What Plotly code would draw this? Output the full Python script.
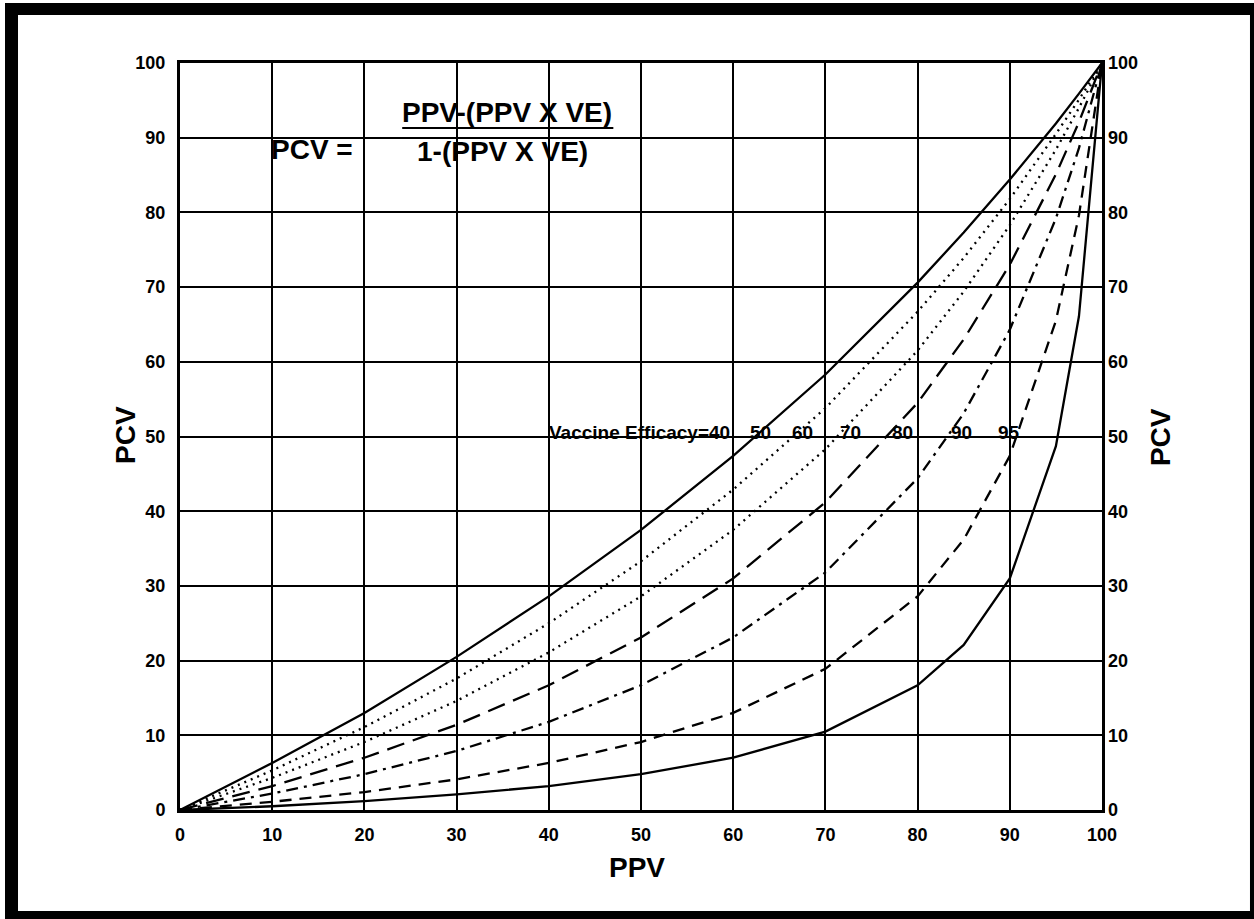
import plotly.graph_objects as go

# ---- data ----
ppv = [0, 10, 20, 30, 40, 50, 60, 70, 80, 85, 90, 95, 97.5, 100]

pcv_ve40 = [0, 6.3, 13.0, 20.5, 28.6, 37.5, 47.4, 58.3, 70.6, 77.3, 84.4, 91.9, 95.9, 100]
pcv_ve50 = [0, 5.3, 11.1, 17.6, 25.0, 33.3, 42.9, 53.8, 66.7, 73.9, 81.8, 90.5, 95.1, 100]
pcv_ve60 = [0, 4.3, 9.1, 14.6, 21.1, 28.6, 37.5, 48.3, 61.5, 69.4, 78.3, 88.4, 94.0, 100]
pcv_ve70 = [0, 3.2, 7.0, 11.4, 16.7, 23.1, 31.0, 41.2, 54.5, 63.0, 73.0, 85.1, 92.1, 100]
pcv_ve80 = [0, 2.2, 4.8, 7.9, 11.8, 16.7, 23.1, 31.8, 44.4, 53.1, 64.3, 79.2, 88.6, 100]
pcv_ve90 = [0, 1.1, 2.4, 4.1, 6.3, 9.1, 13.0, 18.9, 28.6, 36.2, 47.4, 65.5, 79.6, 100]
pcv_ve95 = [0, 0.5, 1.2, 2.1, 3.2, 4.8, 7.0, 10.5, 16.7, 22.1, 31.0, 48.7, 66.1, 100]

series_names = ["VE=40", "VE=50", "VE=60", "VE=70", "VE=80", "VE=90", "VE=95"]
series_values = [pcv_ve40, pcv_ve50, pcv_ve60, pcv_ve70, pcv_ve80, pcv_ve90, pcv_ve95]

ve_labels = ["Vaccine Efficacy=40", "50", "60", "70", "80", "90", "95"]
tick_vals = [0, 10, 20, 30, 40, 50, 60, 70, 80, 90, 100]
tick_text = ["0", "10", "20", "30", "40", "50", "60", "70", "80", "90", "100"]

# ---- styling ----
dashes = ["solid", "2px,5px", "2px,5px", "18px,9px", "12px,6px,3px,6px", "12px,8px", "solid"]
label_x = [59.9, 63.0, 67.5, 72.7, 78.4, 84.8, 89.9]
label_anchor = ["right", "center", "center", "center", "center", "center", "center"]

FONT = "Liberation Sans, Arial, Helvetica, sans-serif"

fig = go.Figure()
for name, vals, dash in zip(series_names, series_values, dashes):
    fig.add_trace(go.Scatter(x=ppv, y=vals, mode="lines", name=name,
                             line=dict(color="black", width=2.3, dash=dash)))

# invisible trace for right axis
fig.add_trace(go.Scatter(x=ppv, y=pcv_ve40, yaxis="y2", mode="lines",
                         line=dict(color="rgba(0,0,0,0)", width=0),
                         hoverinfo="skip", showlegend=False))

tickfont = dict(family=FONT, size=18, color="black", weight="bold")
axis_common = dict(range=[0, 100], tickvals=tick_vals, ticktext=tick_text,
                   showgrid=True, gridcolor="black", gridwidth=2,
                   showline=True, linecolor="black", linewidth=3,
                   zeroline=False, ticks="", tickfont=tickfont)

fig.update_layout(
    width=1254, height=919,
    margin=dict(l=180, r=152, t=63, b=109),
    paper_bgcolor="white", plot_bgcolor="white",
    showlegend=False,
    xaxis=dict(**axis_common, mirror=True, ticklabelstandoff=6),
    yaxis=dict(**axis_common, mirror=True, ticklabelstandoff=8),
    yaxis2=dict(range=[0, 100], tickvals=tick_vals, ticktext=tick_text,
                overlaying="y", side="right", showgrid=False, zeroline=False,
                showline=False, ticks="", tickfont=tickfont, ticklabelstandoff=5),
)

# efficacy labels
for txt, lx, anc in zip(ve_labels, label_x, label_anchor):
    fig.add_annotation(x=lx, y=50.6, xref="x", yref="y", text=txt, showarrow=False,
                       xanchor=anc, yanchor="middle",
                       font=dict(family=FONT, size=19, color="black", weight="bold"))

# formula
ffont = dict(family=FONT, size=28, color="black", weight="bold")
fig.add_annotation(x=35.5, y=93.4, xref="x", yref="y", text="PPV-(PPV X VE)", showarrow=False,
                   xanchor="center", yanchor="middle", font=ffont)
fig.add_annotation(x=35.0, y=88.2, xref="x", yref="y", text="1-(PPV X VE)", showarrow=False,
                   xanchor="center", yanchor="middle", font=ffont)
fig.add_annotation(x=14.3, y=88.4, xref="x", yref="y", text="PCV =", showarrow=False,
                   xanchor="center", yanchor="middle", font=ffont)
fig.add_shape(type="line", xref="x", yref="y", x0=24.1, x1=47.0, y0=91.3, y1=91.3,
              line=dict(color="black", width=2))

# axis titles
tfont = dict(family=FONT, size=28, color="black", weight="bold")
fig.add_annotation(x=0.4957, y=-0.0776, xref="paper", yref="paper", text="PPV", showarrow=False,
                   xanchor="center", yanchor="middle", font=tfont)
fig.add_annotation(x=-0.0597, y=0.502, xref="paper", yref="paper", text="PCV", showarrow=False,
                   xanchor="center", yanchor="middle", textangle=-90, font=tfont)
fig.add_annotation(x=1.063, y=0.4993, xref="paper", yref="paper", text="PCV", showarrow=False,
                   xanchor="center", yanchor="middle", textangle=-90, font=tfont)

# outer frame
frame = [(-0.1898, -0.1757, -0.1459, 1.0803),
         (-0.1898, 1.1649, 1.0643, 1.0803),
         (-0.1898, 1.1649, -0.1459, -0.1352),
         (1.1605, 1.1649, -0.1459, 1.0803)]
for x0, x1, y0, y1 in frame:
    fig.add_shape(type="rect", xref="paper", yref="paper", x0=x0, x1=x1, y0=y0, y1=y1,
                  fillcolor="black", line=dict(width=0), layer="above")

fig.write_html("out.html", config={"displayModeBar": False},
               post_script="document.body.style.margin='0px';document.body.style.overflow='hidden';")
